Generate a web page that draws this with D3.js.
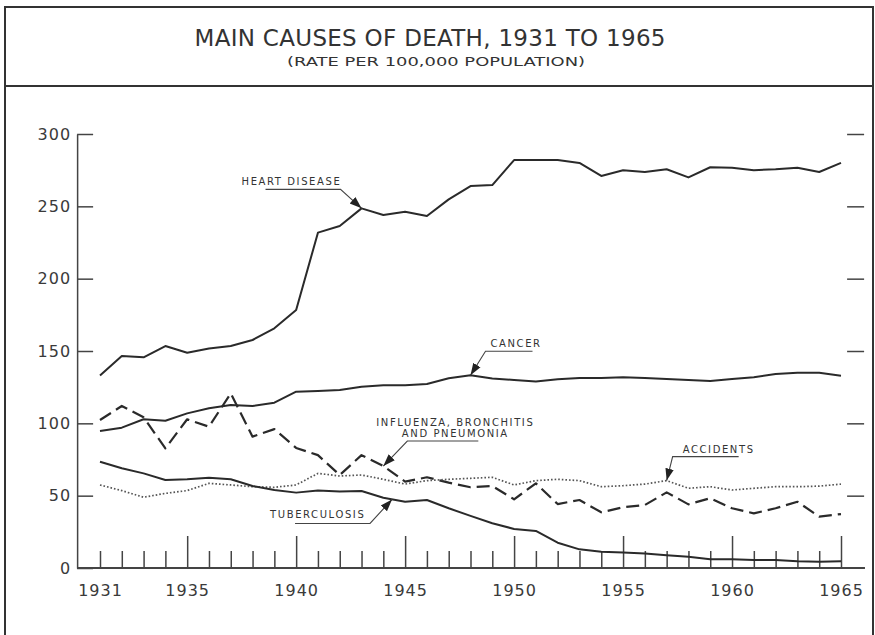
<!DOCTYPE html>
<html>
<head>
	<title>Main causes of death, 1931 to 1965</title>
	<script src="https://d3js.org/d3.v7.min.js" charset="utf-8"></script>
	<style>
		body { margin: 0; background: #fff; }
		text { font-family: "DejaVu Sans", sans-serif; fill: #333; }
		.axis path, .axis line { stroke: #444; stroke-width: 1.5; }
		.axis text { font-size: 16px; letter-spacing: 1px; fill: #3a3a3a; }
		.lbl { font-size: 10px; letter-spacing: 1.6px; fill: #333; }
	</style>
</head>
<body>
	<script>
		// values (rate per 100,000)
		var years = [1931, 1932, 1933, 1934, 1935, 1936, 1937, 1938, 1939, 1940,
			1941, 1942, 1943, 1944, 1945, 1946, 1947, 1948, 1949, 1950,
			1951, 1952, 1953, 1954, 1955, 1956, 1957, 1958, 1959, 1960,
			1961, 1962, 1963, 1964, 1965];

		var heart = [133, 146.5, 145.6, 153.4, 148.8, 151.8, 153.4, 157.6, 165.7, 178.3,
			231.8, 236.4, 248.6, 244, 246.3, 243.3, 254.8, 264, 264.7, 282,
			282, 282, 280, 271, 275, 273.7, 275.6, 270, 277, 276.7,
			275, 275.6, 276.7, 273.7, 280];

		var cancer = [94.7, 97, 102.8, 101.8, 106.9, 110.4, 112.7, 112, 114.3, 121.9,
			122.3, 123, 125.3, 126.3, 126.3, 127.2, 131.1, 133.2, 131, 130,
			129, 130.4, 131.3, 131.3, 131.8, 131.3, 130.6, 130, 129.3, 130.6,
			131.8, 134.1, 135, 135, 132.9];

		var influenza = [102.3, 112, 104.2, 82.7, 102.8, 97.7, 120.7, 90.8, 96, 83,
			78, 64.3, 78, 70.5, 59.7, 62.7, 59, 55.8, 56.7, 47.5,
			58.5, 44.2, 47, 38.5, 42, 43.5, 52.3, 44, 48.2, 41.3,
			37.8, 41.3, 45.8, 35.5, 37.3];

		var accidents = [57.4, 53.5, 48.9, 51.6, 53.5, 58.5, 57.4, 56.2, 55.8, 57.4,
			65.4, 63.6, 64.3, 61.3, 58, 60.4, 61.3, 62, 62.7, 57.4,
			60.4, 61.3, 60.4, 56.2, 56.9, 58, 60.4, 55.1, 56.2, 53.9,
			55.1, 56.2, 56.2, 56.6, 58];

		var tuberculosis = [73.5, 68.9, 65.4, 60.8, 61.3, 62.4, 61.3, 56.7, 53.9, 52.1,
			53.5, 52.8, 53.2, 48.6, 45.8, 47, 41.3, 36, 30.9, 27,
			25.6, 17.5, 12.9, 11.3, 10.8, 10.1, 8.8, 7.8, 6, 6,
			5.5, 5.5, 4.6, 4.4, 4.6];

		var yTicks = [0, 50, 100, 150, 200, 250, 300];
		var xLabelYears = [1931, 1935, 1940, 1945, 1950, 1955, 1960, 1965];

		var series = [
			{name: "heart", values: heart, dash: null, width: 2},
			{name: "cancer", values: cancer, dash: null, width: 2},
			{name: "influenza", values: influenza, dash: "13,6", width: 2.2},
			{name: "accidents", values: accidents, dash: "1.6,2", width: 1.7},
			{name: "tuberculosis", values: tuberculosis, dash: null, width: 2}
		];

		// labels: tip is the point the arrow touches, offsets are in pixels from it
		// fromRight: the leader leaves the underline at its right end
		var notes = [
			{lines: ["HEART DISEASE"], year: 1943, value: 248.6, tx: -120, ty: -23, anchor: "start", u1: -96, u2: -21, uy: -19, fromRight: true},
			{lines: ["CANCER"], year: 1948, value: 133.2, tx: 20, ty: -28, anchor: "start", u1: 15, u2: 62, uy: -24},
			{lines: ["INFLUENZA, BRONCHITIS", "AND PNEUMONIA"], year: 1944, value: 70.5, tx: 72, ty: -40, anchor: "middle", u1: 24, u2: 95, uy: -25},
			{lines: ["ACCIDENTS"], year: 1957, value: 60.4, tx: 16, ty: -28, anchor: "start", u1: 6, u2: 72, uy: -24},
			{lines: ["TUBERCULOSIS"], year: 1944.4, value: 47.4, tx: -122, ty: 19, anchor: "start", u1: -97, u2: -22, uy: 24, fromRight: true}
		];

		var W = 875, H = 635;

		var svg = d3.select("body").append("svg")
			.attr("width", W)
			.attr("height", H);

		var x = d3.scaleLinear().domain([1931, 1965]).range([100, 841]),
			y = d3.scaleLinear().domain([0, 300]).range([568, 134]);

		// frame and title box
		svg.append("rect")
			.attr("x", 5).attr("y", 7)
			.attr("width", 868).attr("height", 640)
			.attr("fill", "none").attr("stroke", "#333").attr("stroke-width", 2);
		svg.append("line")
			.attr("x1", 5).attr("x2", 873).attr("y1", 86).attr("y2", 86)
			.attr("stroke", "#333").attr("stroke-width", 2);

		svg.append("text")
			.attr("x", 430).attr("y", 46)
			.attr("text-anchor", "middle")
			.attr("font-size", 23)
			.attr("fill", "#3a3a3a")
			.attr("textLength", 471).attr("lengthAdjust", "spacing")
			.text("MAIN CAUSES OF DEATH, 1931 TO 1965");
		svg.append("text")
			.attr("x", 436).attr("y", 66)
			.attr("text-anchor", "middle")
			.attr("font-size", 13)
			.attr("textLength", 298).attr("lengthAdjust", "spacingAndGlyphs")
			.text("(RATE PER 100,000 POPULATION)");

		// left axis, ticks pointing inwards
		svg.append("g")
			.attr("class", "axis")
			.attr("transform", "translate(" + x(1929.95) + ",0)")
			.call(d3.axisLeft(y).tickValues(yTicks).tickSizeInner(-16).tickSizeOuter(0).tickPadding(6));

		// short ticks on the right side
		var right = svg.append("g")
			.attr("class", "axis")
			.attr("transform", "translate(" + x(1965.28) + ",0)")
			.call(d3.axisRight(y).tickValues(yTicks.slice(1)).tickSize(17).tickFormat(""));
		right.select(".domain").remove();

		// bottom axis: year ticks rise from the base line, long every 5 years
		var bottom = svg.append("g")
			.attr("class", "axis")
			.attr("transform", "translate(0," + y(0) + ")")
			.call(d3.axisBottom(x).tickValues(years).tickSize(-17).tickPadding(17)
				.tickFormat(function(d) { return xLabelYears.indexOf(d) >= 0 ? d : ""; }));
		bottom.select(".domain").remove();
		bottom.selectAll(".tick line")
			.attr("y2", function(d) { return d % 5 === 0 ? -32 : -17; });

		svg.append("line")
			.attr("x1", x(1929.95)).attr("x2", x(1966.1))
			.attr("y1", y(0)).attr("y2", y(0))
			.attr("stroke", "#444").attr("stroke-width", 1.8);

		// data lines
		var line = d3.line()
			.x(function(d, i) { return x(years[i]); })
			.y(function(d) { return y(d); });

		svg.append("g")
			.selectAll("path")
			.data(series)
			.enter().append("path")
			.attr("d", function(d) { return line(d.values); })
			.attr("fill", "none")
			.attr("stroke", function(d) { return d.name == "accidents" ? "#555" : "#2a2a2a"; })
			.attr("stroke-width", function(d) { return d.width; })
			.attr("stroke-dasharray", function(d) { return d.dash; })
			.attr("stroke-linejoin", "round");

		// arrow head for the leaders
		svg.append("defs").append("marker")
			.attr("id", "arrow")
			.attr("viewBox", "0 0 10 10")
			.attr("refX", 10).attr("refY", 5)
			.attr("markerWidth", 11).attr("markerHeight", 11)
			.attr("orient", "auto")
			.append("path")
			.attr("d", "M0,1.5 L10,5 L0,8.5 Z")
			.attr("fill", "#222");

		var ng = svg.append("g").selectAll("g")
			.data(notes)
			.enter().append("g")
			.attr("transform", function(d) { return "translate(" + x(d.year) + "," + y(d.value) + ")"; });

		ng.each(function(d) {
			var g = d3.select(this);
			d.lines.forEach(function(t, i) {
				g.append("text")
					.attr("class", "lbl")
					.attr("x", d.tx).attr("y", d.ty + i * 11)
					.attr("text-anchor", d.anchor)
					.text(t);
			});
			var pts = d.fromRight ? [d.u1, d.u2] : [d.u2, d.u1];
			g.append("path")
				.attr("d", "M" + pts[0] + "," + d.uy + " L" + pts[1] + "," + d.uy + " L0,0")
				.attr("fill", "none")
				.attr("stroke", "#444")
				.attr("stroke-width", 1.1)
				.attr("marker-end", "url(#arrow)");
		});
	</script>
</body>
</html>
